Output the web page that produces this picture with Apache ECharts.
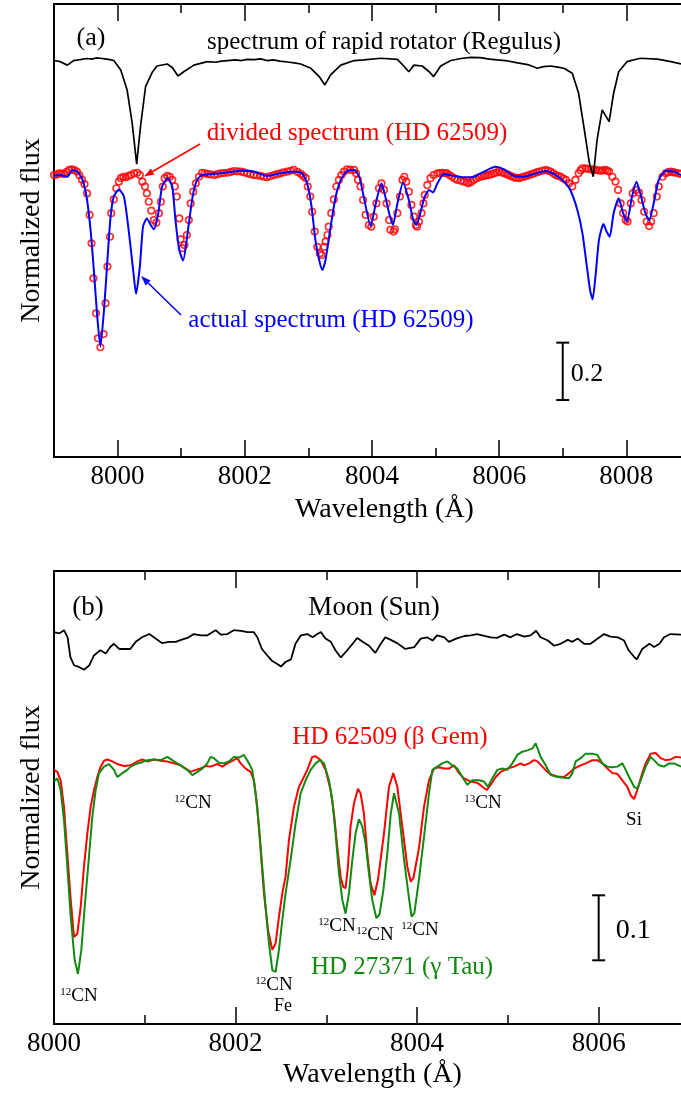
<!DOCTYPE html>
<html>
<head>
<meta charset="utf-8">
<title>Regulus / Moon divided spectra</title>
<script src="https://cdn.jsdelivr.net/npm/echarts@6/dist/echarts.min.js"></script>
<style>
  html, body { margin: 0; padding: 0; background: #fff; }
  #chart { width: 681px; height: 1094px; }
</style>
</head>
<body>
<div id="chart"></div>
<script>
    // panel (a): wavelength (A), normalized flux
    var majorTicksA = [8000, 8002, 8004, 8006, 8008];
    var minorTicksA = [8001, 8003, 8005, 8007];
    var regulusOffset = 0.4;
    var regulusA = [
        [7999.00,0.993],[7999.10,0.989],[7999.21,0.977],[7999.31,0.993],[7999.52,1.000],[7999.60,0.998],
        [7999.66,1.002],[7999.73,1.001],[7999.80,0.999],[7999.88,0.996],[7999.94,0.993],[8000.05,0.960],
        [8000.15,0.890],[8000.23,0.774],[8000.30,0.632],[8000.36,0.763],[8000.44,0.902],[8000.55,0.954],
        [8000.62,0.974],[8000.78,0.981],[8000.86,0.969],[8000.95,0.939],[8001.04,0.954],[8001.20,0.977],
        [8001.41,0.989],[8001.55,0.987],[8001.63,0.991],[8001.73,0.993],[8001.85,0.995],[8001.95,0.993],
        [8002.04,0.997],[8002.15,0.996],[8002.25,0.999],[8002.35,0.993],[8002.45,0.995],[8002.55,0.991],
        [8002.67,0.988],[8002.78,0.985],[8002.88,0.981],[8003.04,0.966],[8003.17,0.937],[8003.26,0.908],
        [8003.35,0.943],[8003.51,0.977],[8003.72,0.993],[8003.87,0.995],[8004.14,1.001],[8004.40,0.997],
        [8004.50,0.974],[8004.58,0.954],[8004.66,0.977],[8004.79,0.974],[8004.90,0.954],[8004.97,0.937],
        [8005.08,0.974],[8005.24,0.993],[8005.40,1.000],[8005.55,1.004],[8005.70,1.003],[8005.85,0.998],
        [8005.97,0.995],[8006.10,0.993],[8006.29,0.985],[8006.45,0.979],[8006.60,0.966],[8006.70,0.972],
        [8006.81,0.974],[8006.92,0.970],[8007.02,0.966],[8007.15,0.949],[8007.25,0.879],[8007.34,0.751],
        [8007.42,0.635],[8007.48,0.588],[8007.54,0.716],[8007.62,0.821],[8007.73,0.780],[8007.80,0.879],
        [8007.88,0.954],[8008.01,0.989],[8008.22,1.001],[8008.49,0.998],[8008.70,0.989],[8008.86,0.981]
    ];
    var dividedA = [
        [7999.00,0.994],[7999.04,0.995],[7999.08,1.000],[7999.12,0.999],[7999.16,0.998],[7999.20,1.005],
        [7999.24,1.012],[7999.28,1.014],[7999.32,1.011],[7999.36,1.006],[7999.40,0.993],[7999.44,0.978],
        [7999.48,0.962],[7999.52,0.930],[7999.56,0.855],[7999.59,0.756],[7999.62,0.634],[7999.66,0.512],
        [7999.69,0.425],[7999.73,0.394],[7999.78,0.440],[7999.81,0.547],[7999.84,0.675],[7999.88,0.779],
        [7999.90,0.861],[7999.94,0.909],[7999.98,0.948],[8000.02,0.971],[8000.05,0.983],[8000.09,0.988],
        [8000.13,0.986],[8000.17,0.991],[8000.21,0.994],[8000.26,1.000],[8000.31,1.002],[8000.35,0.994],
        [8000.39,0.971],[8000.43,0.954],[8000.46,0.930],[8000.49,0.901],[8000.53,0.870],[8000.57,0.837],
        [8000.61,0.828],[8000.65,0.861],[8000.68,0.901],[8000.71,0.954],[8000.74,0.983],[8000.78,0.991],
        [8000.82,0.988],[8000.86,0.977],[8000.90,0.954],[8000.93,0.919],[8000.97,0.843],[8000.99,0.770],
        [8001.02,0.739],[8001.05,0.750],[8001.09,0.785],[8001.12,0.837],[8001.15,0.895],[8001.19,0.936],
        [8001.23,0.965],[8001.28,0.988],[8001.33,1.002],[8001.37,1.000],[8001.41,0.998],[8001.46,0.996],
        [8001.52,0.994],[8001.57,0.997],[8001.62,1.000],[8001.67,1.001],[8001.73,1.002],[8001.78,1.005],
        [8001.83,1.008],[8001.88,1.007],[8001.94,1.006],[8001.99,1.003],[8002.04,1.000],[8002.09,0.997],
        [8002.14,0.994],[8002.19,0.993],[8002.25,0.991],[8002.30,0.988],[8002.35,0.986],[8002.40,0.990],
        [8002.46,0.994],[8002.51,0.997],[8002.56,1.000],[8002.61,1.003],[8002.67,1.006],[8002.72,1.009],
        [8002.77,1.012],[8002.83,1.005],[8002.88,0.998],[8002.92,0.990],[8002.96,0.983],[8002.99,0.954],
        [8003.03,0.919],[8003.06,0.866],[8003.10,0.797],[8003.14,0.744],[8003.18,0.721],[8003.21,0.715],
        [8003.25,0.744],[8003.27,0.762],[8003.30,0.785],[8003.32,0.814],[8003.36,0.861],[8003.40,0.909],
        [8003.44,0.954],[8003.48,0.977],[8003.52,0.994],[8003.56,1.006],[8003.61,1.014],[8003.66,1.012],
        [8003.72,1.012],[8003.75,1.000],[8003.78,0.977],[8003.82,0.954],[8003.86,0.907],[8003.90,0.855],
        [8003.95,0.820],[8003.99,0.814],[8004.03,0.849],[8004.07,0.895],[8004.11,0.948],[8004.15,0.965],
        [8004.19,0.942],[8004.23,0.895],[8004.27,0.837],[8004.29,0.803],[8004.34,0.797],[8004.36,0.805],
        [8004.40,0.861],[8004.44,0.919],[8004.48,0.977],[8004.51,0.988],[8004.54,0.971],[8004.58,0.936],
        [8004.62,0.890],[8004.66,0.849],[8004.69,0.820],[8004.71,0.814],[8004.74,0.832],[8004.78,0.861],
        [8004.81,0.895],[8004.83,0.925],[8004.87,0.959],[8004.92,0.983],[8004.97,0.994],[8005.03,1.000],
        [8005.07,1.001],[8005.11,1.002],[8005.15,1.001],[8005.18,1.000],[8005.22,0.994],[8005.26,0.988],
        [8005.30,0.982],[8005.34,0.977],[8005.40,0.974],[8005.45,0.971],[8005.49,0.968],[8005.52,0.965],
        [8005.56,0.970],[8005.60,0.977],[8005.64,0.982],[8005.68,0.986],[8005.72,0.989],[8005.76,0.991],
        [8005.80,0.993],[8005.84,0.994],[8005.88,0.997],[8005.92,1.000],[8005.96,1.003],[8006.00,1.006],
        [8006.04,1.003],[8006.08,1.000],[8006.12,0.997],[8006.15,0.994],[8006.19,0.990],[8006.23,0.986],
        [8006.27,0.984],[8006.31,0.983],[8006.35,0.986],[8006.39,0.988],[8006.43,0.991],[8006.47,0.994],
        [8006.51,0.997],[8006.55,1.000],[8006.59,1.003],[8006.63,1.006],[8006.68,1.009],[8006.73,1.012],
        [8006.77,1.009],[8006.81,1.006],[8006.85,1.000],[8006.89,0.994],[8006.93,0.991],[8006.97,0.988],
        [8007.01,0.982],[8007.05,0.977],[8007.10,0.965],[8007.15,0.954],[8007.20,0.977],[8007.25,1.000],
        [8007.28,1.010],[8007.31,1.017],[8007.36,1.017],[8007.40,1.015],[8007.44,1.014],[8007.48,1.013],
        [8007.52,1.012],[8007.56,1.010],[8007.60,1.009],[8007.63,1.010],[8007.67,1.012],[8007.70,1.009],
        [8007.73,1.006],[8007.78,0.988],[8007.83,0.971],[8007.87,0.942],[8007.91,0.895],[8007.95,0.861],
        [8007.99,0.837],[8008.02,0.832],[8008.07,0.895],[8008.10,0.930],[8008.15,0.942],[8008.20,0.933],
        [8008.24,0.907],[8008.28,0.866],[8008.32,0.832],[8008.36,0.816],[8008.39,0.832],[8008.43,0.861],
        [8008.48,0.919],[8008.51,0.954],[8008.57,0.988],[8008.62,1.000],[8008.66,1.004],[8008.70,1.006],
        [8008.74,1.004],[8008.77,1.002],[8008.82,1.000],[8008.86,0.998]
    ];
    var actualA = [
        [7999.00,0.991],[7999.10,0.994],[7999.21,0.988],[7999.29,1.012],[7999.37,1.006],[7999.45,0.977],
        [7999.52,0.907],[7999.58,0.791],[7999.63,0.652],[7999.68,0.501],[7999.73,0.396],[7999.79,0.535],
        [7999.84,0.698],[7999.89,0.849],[7999.94,0.919],[8000.02,0.944],[8000.10,0.919],[8000.18,0.791],
        [8000.25,0.652],[8000.29,0.580],[8000.35,0.675],[8000.40,0.814],[8000.46,0.843],[8000.52,0.820],
        [8000.57,0.805],[8000.64,0.861],[8000.70,0.954],[8000.79,0.983],[8000.86,0.954],[8000.91,0.837],
        [8000.97,0.733],[8001.03,0.696],[8001.10,0.791],[8001.18,0.919],[8001.25,0.977],[8001.33,0.994],
        [8001.62,1.000],[8001.94,1.009],[8002.14,1.006],[8002.35,0.991],[8002.56,1.000],[8002.77,1.006],
        [8002.90,1.000],[8002.98,0.965],[8003.05,0.884],[8003.11,0.768],[8003.17,0.698],[8003.22,0.663],
        [8003.27,0.698],[8003.35,0.814],[8003.43,0.919],[8003.51,0.977],[8003.61,1.009],[8003.72,1.012],
        [8003.80,0.988],[8003.87,0.919],[8003.98,0.816],[8004.06,0.895],[8004.15,0.965],[8004.21,0.919],
        [8004.27,0.861],[8004.33,0.820],[8004.40,0.895],[8004.49,0.967],[8004.58,0.907],[8004.65,0.837],
        [8004.70,0.820],[8004.76,0.861],[8004.83,0.919],[8004.90,0.942],[8004.96,0.933],[8005.03,0.965],
        [8005.13,0.998],[8005.29,0.991],[8005.45,0.986],[8005.60,0.988],[8005.76,1.006],[8005.94,1.023],
        [8006.08,1.014],[8006.23,0.991],[8006.39,0.988],[8006.55,0.998],[8006.73,1.008],[8006.89,0.994],
        [8007.02,0.971],[8007.12,0.942],[8007.23,0.872],[8007.31,0.791],[8007.38,0.675],[8007.43,0.593],
        [8007.47,0.561],[8007.52,0.652],[8007.57,0.768],[8007.64,0.823],[8007.69,0.797],[8007.74,0.779],
        [8007.80,0.861],[8007.88,0.913],[8007.95,0.861],[8008.01,0.832],[8008.09,0.919],[8008.16,0.971],
        [8008.22,0.930],[8008.30,0.861],[8008.36,0.837],[8008.43,0.895],[8008.51,0.977],[8008.62,1.008],
        [8008.75,1.006],[8008.86,0.994]
    ];
    // scale bar: wavelength, flux from, flux to
    var scaleBarA = [8007.0, 0.21, 0.41];

    // panel (b)
    var majorTicksB = [8000, 8002, 8004, 8006];
    var minorTicksB = [8001, 8003, 8005];
    var moonOffset = 0.2;
    var moonB = [
        [8000.00,1.000],[8000.06,0.998],[8000.11,1.003],[8000.15,0.992],[8000.18,0.962],[8000.22,0.949],
        [8000.28,0.946],[8000.33,0.942],[8000.39,0.949],[8000.44,0.964],[8000.51,0.972],[8000.57,0.967],
        [8000.62,0.977],[8000.66,0.982],[8000.72,0.974],[8000.79,0.974],[8000.84,0.974],[8000.90,0.985],
        [8000.97,0.992],[8001.05,0.997],[8001.10,0.992],[8001.19,0.983],[8001.27,0.985],[8001.34,0.985],
        [8001.40,0.988],[8001.47,0.991],[8001.54,0.997],[8001.62,0.995],[8001.69,0.995],[8001.78,1.003],
        [8001.84,0.996],[8001.91,0.997],[8001.98,1.003],[8002.06,1.002],[8002.13,1.000],[8002.20,1.000],
        [8002.24,0.992],[8002.29,0.974],[8002.35,0.964],[8002.40,0.956],[8002.46,0.951],[8002.50,0.947],
        [8002.55,0.954],[8002.61,0.958],[8002.66,0.982],[8002.72,0.995],[8002.79,0.997],[8002.85,0.992],
        [8002.90,0.997],[8002.94,1.000],[8002.99,0.990],[8003.05,0.985],[8003.10,0.972],[8003.16,0.961],
        [8003.23,0.972],[8003.29,0.982],[8003.34,0.991],[8003.40,0.985],[8003.47,0.979],[8003.54,0.968],
        [8003.60,0.982],[8003.65,0.992],[8003.71,0.988],[8003.78,0.983],[8003.87,0.974],[8003.97,0.977],
        [8004.04,0.990],[8004.11,0.992],[8004.17,0.987],[8004.22,0.995],[8004.30,0.992],[8004.35,0.985],
        [8004.43,0.990],[8004.52,0.994],[8004.59,0.995],[8004.66,0.997],[8004.74,0.994],[8004.81,0.992],
        [8004.88,0.991],[8004.96,0.996],[8005.03,0.992],[8005.10,0.997],[8005.18,0.993],[8005.25,0.995],
        [8005.31,1.002],[8005.36,0.992],[8005.44,0.987],[8005.51,0.979],[8005.58,0.982],[8005.66,0.988],
        [8005.71,0.985],[8005.77,0.990],[8005.84,0.982],[8005.91,0.982],[8005.99,0.990],[8006.06,0.997],
        [8006.13,0.993],[8006.21,0.992],[8006.28,0.987],[8006.33,0.972],[8006.39,0.962],[8006.42,0.958],
        [8006.48,0.974],[8006.56,0.982],[8006.61,0.977],[8006.67,0.982],[8006.72,0.992],[8006.79,0.997],
        [8006.91,0.996]
    ];
    var betaGemB = [
        [8000.000,0.988],[8000.037,0.985],[8000.073,0.972],[8000.110,0.931],[8000.147,0.859],[8000.184,0.788],
        [8000.220,0.731],[8000.257,0.736],[8000.294,0.777],[8000.330,0.839],[8000.367,0.890],[8000.404,0.931],
        [8000.441,0.957],[8000.477,0.977],[8000.514,0.993],[8000.551,1.002],[8000.587,1.004],[8000.642,1.001],
        [8000.698,0.997],[8000.771,0.994],[8000.844,0.995],[8000.918,1.001],[8000.973,1.004],[8001.028,1.001],
        [8001.101,1.004],[8001.175,1.002],[8001.248,1.001],[8001.322,0.998],[8001.395,0.995],[8001.450,0.990],
        [8001.505,0.985],[8001.560,0.988],[8001.615,0.990],[8001.670,0.994],[8001.725,0.993],[8001.799,0.997],
        [8001.854,0.993],[8001.909,0.998],[8001.964,1.002],[8002.019,1.006],[8002.056,0.998],[8002.111,0.990],
        [8002.166,0.985],[8002.203,0.972],[8002.239,0.931],[8002.276,0.865],[8002.313,0.798],[8002.357,0.742],
        [8002.405,0.711],[8002.441,0.721],[8002.478,0.762],[8002.515,0.798],[8002.551,0.824],[8002.588,0.880],
        [8002.643,0.931],[8002.698,0.962],[8002.735,0.972],[8002.790,0.988],[8002.845,1.008],[8002.882,1.009],
        [8002.937,1.003],[8002.992,0.988],[8003.047,0.957],[8003.084,0.921],[8003.120,0.870],[8003.157,0.824],
        [8003.186,0.808],[8003.212,0.806],[8003.238,0.839],[8003.267,0.901],[8003.304,0.936],[8003.348,0.959],
        [8003.377,0.952],[8003.414,0.921],[8003.451,0.859],[8003.488,0.813],[8003.530,0.795],[8003.570,0.820],
        [8003.635,0.890],[8003.690,0.962],[8003.738,0.983],[8003.782,0.962],[8003.837,0.901],[8003.892,0.839],
        [8003.930,0.816],[8003.960,0.822],[8004.021,0.868],[8004.076,0.931],[8004.131,0.972],[8004.186,0.990],
        [8004.241,0.992],[8004.296,0.990],[8004.351,0.990],[8004.407,0.995],[8004.462,0.983],[8004.517,0.975],
        [8004.590,0.970],[8004.664,0.968],[8004.719,0.962],[8004.766,0.957],[8004.811,0.965],[8004.866,0.977],
        [8004.921,0.985],[8004.994,0.990],[8005.068,0.993],[8005.141,0.998],[8005.178,0.995],[8005.233,0.998],
        [8005.288,1.003],[8005.325,1.001],[8005.380,0.993],[8005.435,0.985],[8005.490,0.980],[8005.545,0.978],
        [8005.618,0.977],[8005.674,0.983],[8005.729,0.990],[8005.802,0.995],[8005.857,0.998],[8005.931,1.003],
        [8005.986,1.003],[8006.041,0.998],[8006.096,0.990],[8006.151,0.983],[8006.206,0.982],[8006.261,0.972],
        [8006.316,0.962],[8006.353,0.949],[8006.390,0.943],[8006.426,0.957],[8006.481,0.983],[8006.518,0.998],
        [8006.573,1.013],[8006.628,1.014],[8006.683,1.006],[8006.738,1.003],[8006.794,1.004],[8006.849,1.008],
        [8006.907,1.007]
    ];
    var gammaTauB = [
        [8000.000,0.970],[8000.037,0.975],[8000.073,0.957],[8000.110,0.911],[8000.147,0.839],[8000.184,0.762],
        [8000.228,0.695],[8000.264,0.674],[8000.301,0.711],[8000.338,0.777],[8000.385,0.854],[8000.422,0.916],
        [8000.459,0.957],[8000.496,0.983],[8000.551,0.993],[8000.606,0.997],[8000.661,0.988],[8000.698,0.977],
        [8000.753,0.983],[8000.808,0.988],[8000.844,0.993],[8000.899,0.997],[8000.954,0.999],[8001.028,1.003],
        [8001.101,1.004],[8001.175,1.003],[8001.248,1.008],[8001.303,1.003],[8001.358,0.998],[8001.413,0.993],
        [8001.468,0.988],[8001.524,0.980],[8001.579,0.985],[8001.634,0.990],[8001.689,0.998],[8001.725,1.008],
        [8001.762,1.006],[8001.817,0.999],[8001.872,0.998],[8001.927,1.001],[8001.982,1.008],[8002.037,1.007],
        [8002.093,1.011],[8002.148,0.998],[8002.184,0.988],[8002.221,0.952],[8002.258,0.901],[8002.294,0.839],
        [8002.331,0.777],[8002.368,0.721],[8002.405,0.680],[8002.441,0.677],[8002.478,0.711],[8002.515,0.757],
        [8002.551,0.798],[8002.606,0.849],[8002.662,0.906],[8002.717,0.952],[8002.772,0.972],[8002.827,0.988],
        [8002.882,0.998],[8002.930,1.003],[8002.974,0.998],[8003.029,0.972],[8003.065,0.942],[8003.102,0.890],
        [8003.139,0.829],[8003.176,0.788],[8003.212,0.767],[8003.249,0.798],[8003.286,0.849],[8003.322,0.890],
        [8003.359,0.912],[8003.396,0.901],[8003.432,0.875],[8003.469,0.829],[8003.506,0.788],[8003.550,0.760],
        [8003.585,0.765],[8003.630,0.805],[8003.672,0.860],[8003.709,0.920],[8003.746,0.952],[8003.801,0.921],
        [8003.856,0.850],[8003.911,0.790],[8003.940,0.762],[8003.970,0.768],[8004.021,0.820],[8004.076,0.885],
        [8004.131,0.952],[8004.168,0.988],[8004.223,0.993],[8004.278,0.998],[8004.333,1.001],[8004.388,0.995],
        [8004.443,0.990],[8004.498,0.977],[8004.553,0.965],[8004.609,0.972],[8004.682,0.972],[8004.737,0.970],
        [8004.781,0.962],[8004.829,0.975],[8004.884,0.988],[8004.939,0.990],[8004.994,0.988],[8005.049,0.998],
        [8005.104,1.011],[8005.159,1.016],[8005.215,1.018],[8005.270,1.021],[8005.306,1.029],[8005.361,1.008],
        [8005.416,0.995],[8005.472,0.980],[8005.545,0.977],[8005.618,0.976],[8005.674,0.975],[8005.710,0.983],
        [8005.747,1.001],[8005.802,1.006],[8005.857,1.013],[8005.931,1.013],[8005.986,1.011],[8006.041,0.998],
        [8006.096,0.993],[8006.151,0.992],[8006.206,0.993],[8006.261,0.998],[8006.298,0.988],[8006.335,0.977],
        [8006.390,0.962],[8006.426,0.959],[8006.463,0.972],[8006.518,0.993],[8006.573,1.008],[8006.610,1.003],
        [8006.665,0.995],[8006.720,0.993],[8006.775,0.998],[8006.830,0.998],[8006.907,0.993]
    ];
    var scaleBarB = [8006.0, 0.695, 0.795];

    var serif = 'Liberation Serif';

    function shift(data, off) {
        var out = [];
        for (var i = 0; i < data.length; i++) {
            out.push([data[i][0], data[i][1] + off]);
        }
        return out;
    }

    function makeXAxes(gridIndex, min, max, major, minor, nameGap, nameShift) {
        var list = [];
        var tickStyle = {color: '#000', width: 1.5};
        ['bottom', 'top'].forEach(function (pos) {
            var bottom = pos == 'bottom';
            list.push({
                gridIndex: gridIndex, type: 'value', min: min, max: max, position: pos,
                splitLine: {show: false},
                axisLine: {show: true, onZero: false, lineStyle: {color: '#000', width: 2}},
                axisTick: {show: true, inside: true, length: 17, customValues: major, lineStyle: tickStyle},
                axisLabel: bottom ? {show: true, customValues: major, margin: 6, fontSize: 27,
                    fontFamily: serif, color: '#000',
                    formatter: function (v) { return String(Math.round(v)); }} : {show: false},
                name: bottom ? 'Wavelength (Å)' : '',
                nameLocation: 'middle', nameGap: nameGap,
                nameTextStyle: {fontSize: 28, fontFamily: serif, color: '#000', padding: [0, 0, 0, nameShift * 2]}
            });
            list.push({
                gridIndex: gridIndex, type: 'value', min: min, max: max, position: pos,
                splitLine: {show: false},
                axisLine: {show: false},
                axisTick: {show: true, inside: true, length: 9, customValues: minor, lineStyle: tickStyle},
                axisLabel: {show: false}
            });
        });
        return list;
    }

    function makeYAxis(gridIndex, min, max) {
        return {
            gridIndex: gridIndex, type: 'value', min: min, max: max,
            splitLine: {show: false},
            axisLine: {show: true, onZero: false, lineStyle: {color: '#000', width: 2}},
            axisTick: {show: false},
            axisLabel: {show: false},
            name: 'Normalized flux', nameLocation: 'middle', nameRotate: 90, nameGap: 8,
            nameTextStyle: {fontSize: 28, fontFamily: serif, color: '#000'}
        };
    }

    // 比例尺：竖线 + 两端短横 + 数值
    function scaleBar(label, fontSize, textGap) {
        return function (params, api) {
            var lo = api.coord([api.value(0), api.value(1)]);
            var hi = api.coord([api.value(0), api.value(2)]);
            var cap = 6.5;
            var st = {stroke: '#000', lineWidth: 2};
            return {
                type: 'group',
                children: [
                    {type: 'line', shape: {x1: hi[0], y1: hi[1], x2: lo[0], y2: lo[1]}, style: st},
                    {type: 'line', shape: {x1: hi[0] - cap, y1: hi[1], x2: hi[0] + cap, y2: hi[1]}, style: st},
                    {type: 'line', shape: {x1: lo[0] - cap, y1: lo[1], x2: lo[0] + cap, y2: lo[1]}, style: st},
                    {type: 'text', x: hi[0] + textGap, y: (hi[1] + lo[1]) / 2 + 3,
                        style: {text: label, fontSize: fontSize, fontFamily: serif, fill: '#000',
                            align: 'left', verticalAlign: 'middle'}}
                ]
            };
        };
    }

    function text(str, x, y, size, color) {
        return {type: 'text', x: x, y: y, z: 100,
            style: {text: str, fontSize: size, fontFamily: serif, fill: color || '#000',
                align: 'center', verticalAlign: 'middle'}};
    }

    function isoText(mass, x, y) {
        return {type: 'text', x: x, y: y, z: 100,
            style: {text: '{s|' + mass + '}{n|CN}', align: 'center', verticalAlign: 'middle',
                rich: {
                    s: {fontSize: 11, fontFamily: serif, fill: '#000', verticalAlign: 'top', lineHeight: 19},
                    n: {fontSize: 19, fontFamily: serif, fill: '#000', lineHeight: 19}
                }}};
    }

    function arrow(x1, y1, x2, y2, color) {
        var ang = Math.atan2(y2 - y1, x2 - x1);
        var len = 10, w = 3.5;
        var bx = x2 - len * Math.cos(ang), by = y2 - len * Math.sin(ang);
        var px = -Math.sin(ang) * w, py = Math.cos(ang) * w;
        return {
            type: 'group', z: 100,
            children: [
                {type: 'line', shape: {x1: x1, y1: y1, x2: bx, y2: by}, style: {stroke: color, lineWidth: 1.5}},
                {type: 'polygon', shape: {points: [[x2, y2], [bx + px, by + py], [bx - px, by - py]]},
                    style: {fill: color}}
            ]
        };
    }

    var chart = echarts.init(document.getElementById('chart'));
    var xAxes = makeXAxes(0, 7999.0, 8008.86, majorTicksA, minorTicksA, 39, 17)
        .concat(makeXAxes(1, 8000.0, 8006.907, majorTicksB, minorTicksB, 37, 5));

    var option = {
        backgroundColor: '#fff',
        animation: false,
        grid: [
            {left: 54, top: 4, right: 0, height: 453},
            {left: 54, top: 571, right: 0, height: 453}
        ],
        xAxis: xAxes,
        yAxis: [makeYAxis(0, 0.0115, 1.590), makeYAxis(1, 0.597, 1.294)],
        series: [
            {
                name: 'divided spectrum (HD 62509)', type: 'scatter', xAxisIndex: 0, yAxisIndex: 0,
                data: dividedA, symbol: 'circle', symbolSize: 6.5,
                itemStyle: {color: 'transparent', borderColor: '#ff0000', borderWidth: 1.7}
            },
            {
                name: 'actual spectrum (HD 62509)', type: 'line', xAxisIndex: 0, yAxisIndex: 0,
                data: actualA, showSymbol: false, smooth: 0.2, lineStyle: {color: '#0000ff', width: 2}
            },
            {
                name: 'Regulus', type: 'line', xAxisIndex: 0, yAxisIndex: 0,
                data: shift(regulusA, regulusOffset), showSymbol: false, lineStyle: {color: '#000', width: 1.7}
            },
            {
                type: 'custom', xAxisIndex: 0, yAxisIndex: 0, data: [scaleBarA],
                renderItem: scaleBar('0.2', 26, 8)
            },
            {
                name: 'Moon (Sun)', type: 'line', xAxisIndex: 4, yAxisIndex: 1,
                data: shift(moonB, moonOffset), showSymbol: false, lineStyle: {color: '#000', width: 1.8}
            },
            {
                name: 'HD 62509 (β Gem)', type: 'line', xAxisIndex: 4, yAxisIndex: 1,
                data: betaGemB, showSymbol: false, lineStyle: {color: '#ff0000', width: 2}
            },
            {
                name: 'HD 27371 (γ Tau)', type: 'line', xAxisIndex: 4, yAxisIndex: 1,
                data: gammaTauB, showSymbol: false, lineStyle: {color: '#118a11', width: 2}
            },
            {
                type: 'custom', xAxisIndex: 4, yAxisIndex: 1, data: [scaleBarB],
                renderItem: scaleBar('0.1', 28, 17)
            }
        ],
        graphic: [
            text('(a)', 91, 38, 26),
            text('spectrum of rapid rotator (Regulus)', 384, 42, 25),
            text('divided spectrum (HD 62509)', 357, 133, 25, '#ff0000'),
            arrow(200, 144, 144, 176.5, '#ff0000'),
            text('actual spectrum (HD 62509)', 331, 320, 25, '#0000ff'),
            arrow(181, 315, 141, 276, '#0000ff'),
            text('(b)', 88, 608, 27),
            text('Moon (Sun)', 374, 608, 27),
            text('HD 62509 (β Gem)', 390, 737, 25, '#ff0000'),
            text('HD 27371 (γ Tau)', 402, 967, 25, '#118a11'),
            isoText(12, 193, 803),
            isoText(13, 483, 803),
            text('Si', 634, 820, 19),
            isoText(12, 337, 926),
            isoText(12, 375, 935),
            isoText(12, 420, 930),
            isoText(12, 79, 996),
            isoText(12, 274, 985),
            text('Fe', 283, 1006, 18)
        ]
    };
    chart.setOption(option);
</script>
</body>
</html>
